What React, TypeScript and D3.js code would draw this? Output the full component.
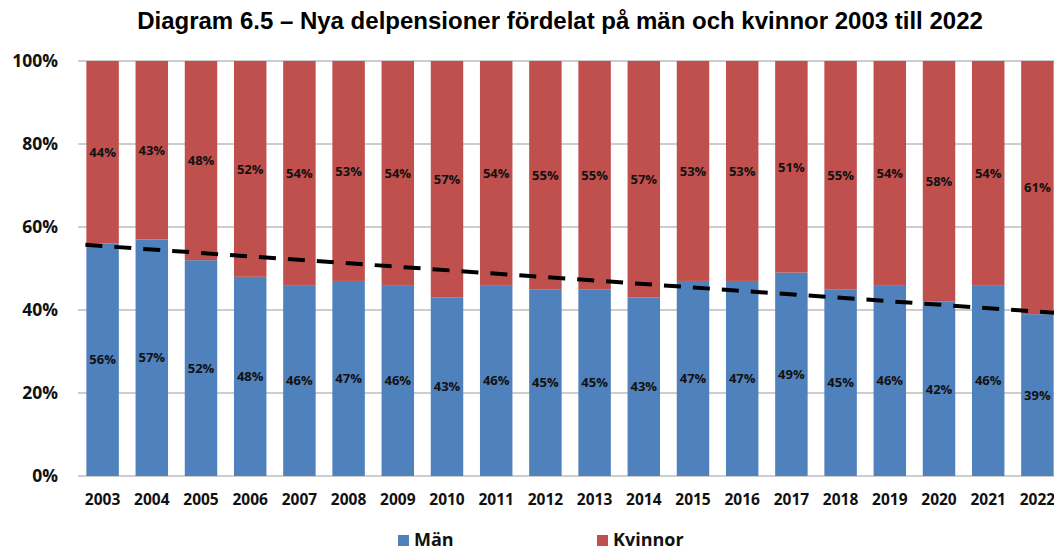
import React, { useEffect, useRef } from 'react';
import * as d3 from 'd3';

const years = [
    '2003', '2004', '2005', '2006', '2007', '2008', '2009', '2010', '2011', '2012',
    '2013', '2014', '2015', '2016', '2017', '2018', '2019', '2020', '2021', '2022',
];
const manValues = [56, 57, 52, 48, 46, 47, 46, 43, 46, 45, 45, 43, 47, 47, 49, 45, 46, 42, 46, 39];
const kvinnorValues = [44, 43, 48, 52, 54, 53, 54, 57, 54, 55, 55, 57, 53, 53, 51, 55, 54, 58, 54, 61];
const yTicks = [0, 20, 40, 60, 80, 100];
// dashed trend line (category index, percent)
const trendIndex = [-0.35, 19.5];
const trendValue = [55.7, 39.2];
const legendLabels = ['Män', 'Kvinnor'];

const title = 'Diagram 6.5 – Nya delpensioner fördelat på män och kvinnor 2003 till 2022';

const W = 1054;
const H = 550;
const BLUE = '#4f81bd';
const RED = '#c0504d';
const GRID = '#bdbdbd';
const FONT = '"Open Sans", "DejaVu Sans", sans-serif';

const drawChart = (svgEl: SVGSVGElement) => {
    const svg = d3.select(svgEl);
    svg.selectAll('*').remove();

    const x = d3.scaleBand<string>()
        .domain(years)
        .range([78, 1062])
        .paddingInner(0.34)
        .paddingOuter(0.17);
    const y = d3.scaleLinear().domain([0, 100]).range([476, 61]);

    const plotLeft = 78;
    const plotRight = 1062;

    // --- Title ---
    svg.append('text')
        .attr('x', 560)
        .attr('y', 29)
        .attr('text-anchor', 'middle')
        .style('font-family', '"Liberation Sans", Arial, sans-serif')
        .style('font-weight', 'bold')
        .style('font-size', '24px')
        .style('fill', '#000')
        .text(title);

    // --- Gridlines ---
    svg.append('g')
        .selectAll('line')
        .data(yTicks)
        .enter()
        .append('line')
        .attr('x1', plotLeft)
        .attr('x2', plotRight)
        .attr('y1', d => y(d))
        .attr('y2', d => y(d))
        .attr('stroke', GRID)
        .attr('stroke-width', 1.5);

    // --- Y labels ---
    svg.append('g')
        .selectAll('text')
        .data(yTicks)
        .enter()
        .append('text')
        .attr('x', 58)
        .attr('y', d => y(d))
        .attr('dy', '0.36em')
        .attr('text-anchor', 'end')
        .style('font-family', FONT)
        .style('font-weight', 'bold')
        .style('font-size', '17.5px')
        .style('fill', '#111')
        .text(d => `${d}%`);

    // --- Stacked bars ---
    const rows = years.map((yr, i) => ({ yr, man: manValues[i], kvinnor: kvinnorValues[i] }));
    const bars = svg.append('g');
    rows.forEach(r => {
        const bx = x(r.yr) as number;
        const bw = x.bandwidth();
        const top = r.man + r.kvinnor;
        bars.append('rect')
            .attr('x', bx)
            .attr('width', bw)
            .attr('y', y(r.man))
            .attr('height', y(0) - y(r.man))
            .attr('fill', BLUE);
        bars.append('rect')
            .attr('x', bx)
            .attr('width', bw)
            .attr('y', y(top))
            .attr('height', y(r.man) - y(top))
            .attr('fill', RED);

        const labelStyle = (sel: d3.Selection<SVGTextElement, unknown, null, undefined>) => sel
            .attr('x', bx + bw / 2)
            .attr('dy', '0.36em')
            .attr('text-anchor', 'middle')
            .style('font-family', FONT)
            .style('font-weight', 'bold')
            .style('font-size', '13px')
            .style('fill', '#111');

        bars.append('text')
            .call(labelStyle)
            .attr('y', (y(0) + y(r.man)) / 2)
            .text(`${r.man}%`);
        bars.append('text')
            .call(labelStyle)
            .attr('y', (y(r.man) + y(top)) / 2)
            .text(`${r.kvinnor}%`);
    });

    // --- Trend line ---
    const x0 = (x(years[0]) as number) + x.bandwidth() / 2;
    const step = x.step();
    const trendPts: [number, number][] = trendIndex.map((ti, i) => [x0 + ti * step, y(trendValue[i])]);
    svg.append('path')
        .attr('d', d3.line()(trendPts))
        .attr('fill', 'none')
        .attr('stroke', '#000')
        .attr('stroke-width', 4)
        .attr('stroke-dasharray', '17,12');

    // --- X labels ---
    svg.append('g')
        .selectAll('text')
        .data(years)
        .enter()
        .append('text')
        .attr('x', d => (x(d) as number) + x.bandwidth() / 2)
        .attr('y', 499)
        .attr('dy', '0.36em')
        .attr('text-anchor', 'middle')
        .style('font-family', FONT)
        .style('font-weight', 'bold')
        .style('font-size', '15.5px')
        .style('fill', '#111')
        .text(d => d);

    // --- Legend ---
    const legendX = [398, 597];
    const legendColors = [BLUE, RED];
    legendLabels.forEach((label, i) => {
        svg.append('rect')
            .attr('x', legendX[i])
            .attr('y', 535)
            .attr('width', 11)
            .attr('height', 11)
            .attr('fill', legendColors[i]);
        svg.append('text')
            .attr('x', legendX[i] + 16)
            .attr('y', 540)
            .attr('dy', '0.36em')
            .style('font-family', FONT)
            .style('font-weight', 'bold')
            .style('font-size', '18px')
            .style('fill', '#111')
            .text(label);
    });
};

const App: React.FC = () => {
    const svgRef = useRef<SVGSVGElement | null>(null);

    useEffect(() => {
        if (svgRef.current) drawChart(svgRef.current);
    }, []);

    return (
        <svg
            ref={svgRef}
            width={W}
            height={H}
            viewBox={`0 0 ${W} ${H}`}
            style={{ position: 'absolute', left: 0, top: 0, display: 'block', background: '#fff', overflow: 'hidden' }}
        />
    );
};

export default App;
